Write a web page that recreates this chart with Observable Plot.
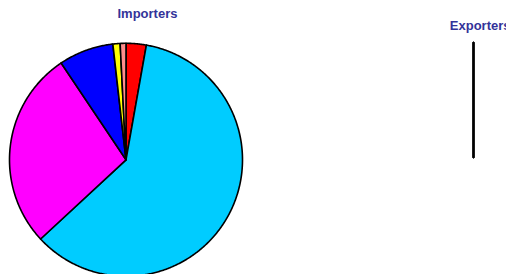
<!DOCTYPE html>
<html>
<head>
<meta charset="utf-8">
<script src="https://cdn.jsdelivr.net/npm/d3@7"></script>
<script src="https://cdn.jsdelivr.net/npm/@observablehq/plot@0.6"></script>
<style>
  html, body { margin: 0; padding: 0; background: #fff; }
  #chart svg { display: block; }
</style>
</head>
<body>
<div id="chart"></div>
<script>
// ---- data ----
const titles = ["Importers", "Exporters"];
const categories = ["Category A", "Category B", "Category C", "Category D", "Category E", "Category F"];
const importerValues = [2.8, 60.3, 27.5, 7.6, 1.0, 0.8];
const exporterValues = [0, 0, 0, 0, 0, 0];
const sliceColors = ["#ff0000", "#00ccff", "#ff00ff", "#0000ff", "#ffff00", "#ff8c8c"];

// ---- layout ----
const W = 506, H = 274;
const pies = [
  {title: titles[0], values: importerValues, cx: 125.5, cy: 159.3, r: 116.5, tx: 117, ty: 17.7},
  {title: titles[1], values: exporterValues, cx: 473, cy: 157, r: 115, tx: 449.3, ty: 29}
];

const pieGen = d3.pie().sort(null).value(d => d);
const polys = [];
pies.forEach((p, pi) => {
  const arcs = pieGen(p.values);
  arcs.forEach((a, i) => {
    const key = pi + "-" + i;
    const col = sliceColors[i];
    polys.push({key, color: col, x: p.cx, y: p.cy, cat: categories[i]});
    const span = a.endAngle - a.startAngle;
    const n = Math.max(1, Math.ceil(span / (Math.PI / 360)));
    for (let k = 0; k <= n; k++) {
      const ang = a.startAngle + span * k / n;
      polys.push({key, color: col, x: p.cx + p.r * Math.sin(ang), y: p.cy - p.r * Math.cos(ang), cat: categories[i]});
    }
  });
});

const chart = Plot.plot({
  width: W,
  height: H,
  margin: 0,
  x: {domain: [0, W], range: [0, W], axis: null},
  y: {domain: [0, H], range: [0, H], axis: null},
  color: {type: "identity"},
  style: {background: "#fff"},
  marks: [
    Plot.line(polys, {
      x: "x", y: "y", z: "key",
      fill: "color",
      stroke: "#000",
      strokeWidth: 1.6,
      strokeLinejoin: "round",
      curve: "linear-closed"
    }),
    Plot.text(pies, {
      x: "tx", y: "ty", text: "title",
      textAnchor: "start",
      lineAnchor: "bottom",
      fill: "#333399",
      fontSize: 13,
      fontWeight: "bold",
      fontFamily: "Liberation Sans, Arial, sans-serif"
    })
  ]
});
document.getElementById("chart").appendChild(chart);
</script>
</body>
</html>
